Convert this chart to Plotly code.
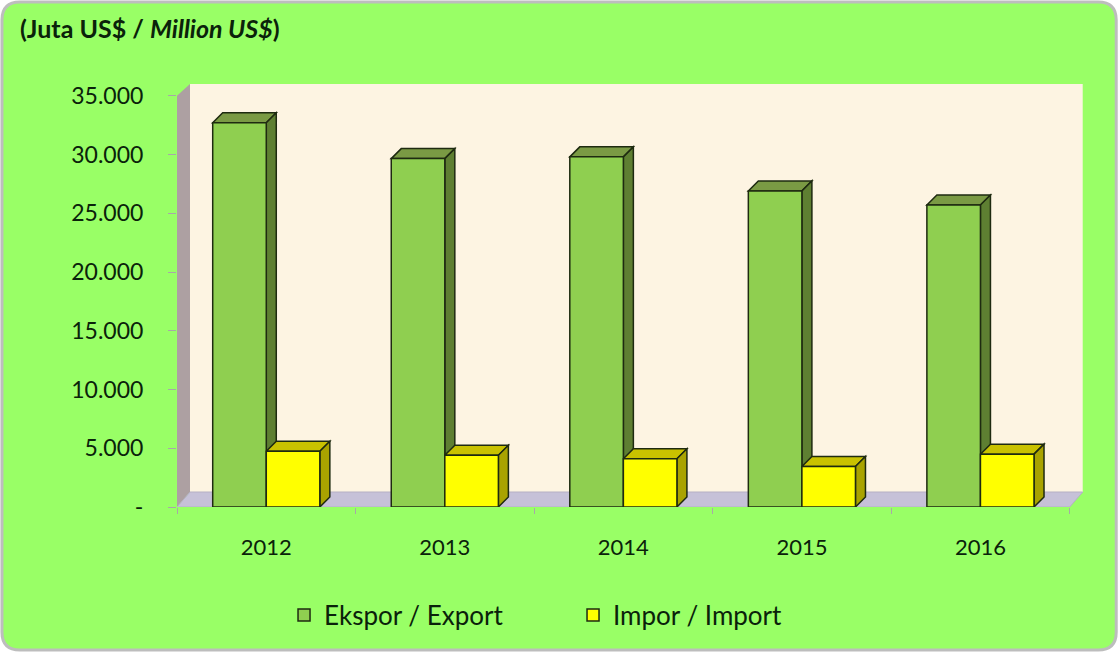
import plotly.graph_objects as go

# Export / import values (million US$)
years = ["2012", "2013", "2014", "2015", "2016"]
export_vals = [32700, 29650, 29800, 26900, 25700]
import_vals = [4750, 4400, 4100, 3450, 4500]

y_tickvals = [0, 5000, 10000, 15000, 20000, 25000, 30000, 35000]
y_ticktext = ["-", "5.000", "10.000", "15.000", "20.000", "25.000", "30.000", "35.000"]

# Geometry of the figure (pixels)
W, H = 1118, 652
ML, MT, MB = 177, 84, 145
UNIT_PX = 178.5          # pixels per category
X_RANGE = [-0.5, 4.58]
Y_RANGE = [0, 36000]
plot_w = (X_RANGE[1] - X_RANGE[0]) * UNIT_PX
MR = W - ML - plot_w
plot_h = H - MT - MB
px_per_y = plot_h / (Y_RANGE[1] - Y_RANGE[0])

BAR_W = 0.3
# 3-D depth offsets in data units
bar_dx = 10 / UNIT_PX
bar_dy = 10 / px_per_y
wall_dx = 13 / UNIT_PX
wall_dy = 15 / px_per_y

xs = list(range(len(years)))

EXP_FRONT, EXP_TOP, EXP_SIDE = "#8FCF50", "#7A9A44", "#5E7F32"
IMP_FRONT, IMP_TOP, IMP_SIDE = "#FFFF00", "#C9C200", "#A9A300"
EDGE = "#1E2A10"
TEXT = "#0A220A"


def px_to_paper_x(px):
    return (px - ML) / plot_w


def px_to_paper_y(py):
    return (H - MB - py) / plot_h


def poly(points):
    return "M " + " L ".join(f"{x},{y}" for x, y in points) + " Z"


shapes = []

# rounded frame of the whole chart
r = 18
x0p, x1p, y0p, y1p = 2, W - 2, 2, H - 2
fx = px_to_paper_x
fy = px_to_paper_y
frame_path = (
    f"M {fx(x0p + r)},{fy(y0p)} L {fx(x1p - r)},{fy(y0p)} "
    f"Q {fx(x1p)},{fy(y0p)} {fx(x1p)},{fy(y0p + r)} "
    f"L {fx(x1p)},{fy(y1p - r)} Q {fx(x1p)},{fy(y1p)} {fx(x1p - r)},{fy(y1p)} "
    f"L {fx(x0p + r)},{fy(y1p)} Q {fx(x0p)},{fy(y1p)} {fx(x0p)},{fy(y1p - r)} "
    f"L {fx(x0p)},{fy(y0p + r)} Q {fx(x0p)},{fy(y0p)} {fx(x0p + r)},{fy(y0p)} Z"
)
shapes.append(dict(type="path", xref="paper", yref="paper", path=frame_path,
                   fillcolor="#99FF66", line=dict(color="#BDBDBD", width=3),
                   layer="below"))

left = X_RANGE[0]
right = len(years) - 0.5
# back wall
shapes.append(dict(type="path", xref="x", yref="y", layer="below",
                   path=poly([(left + wall_dx, wall_dy), (right + wall_dx, wall_dy),
                              (right + wall_dx, Y_RANGE[1]), (left + wall_dx, Y_RANGE[1])]),
                   fillcolor="#FDF4E2", line=dict(width=0)))
# side wall
shapes.append(dict(type="path", xref="x", yref="y", layer="below",
                   path=poly([(left, 0), (left + wall_dx, wall_dy),
                              (left + wall_dx, Y_RANGE[1]), (left, 35000)]),
                   fillcolor="#ADA0A2", line=dict(width=0)))
# floor
shapes.append(dict(type="path", xref="x", yref="y", layer="below",
                   path=poly([(left, 0), (right, 0), (right + wall_dx, wall_dy),
                              (left + wall_dx, wall_dy)]),
                   fillcolor="#C6C1D8", line=dict(color="#B5B0C4", width=1)))


def box_faces(x0, x1, v, top_col, side_col):
    top = dict(type="path", xref="x", yref="y", layer="below",
               path=poly([(x0, v), (x1, v), (x1 + bar_dx, v + bar_dy), (x0 + bar_dx, v + bar_dy)]),
               fillcolor=top_col, line=dict(color=EDGE, width=1.5))
    side = dict(type="path", xref="x", yref="y", layer="below",
                path=poly([(x1, 0), (x1, v), (x1 + bar_dx, v + bar_dy), (x1 + bar_dx, bar_dy)]),
                fillcolor=side_col, line=dict(color=EDGE, width=1.5))
    return [top, side]


for x, ev, iv in zip(xs, export_vals, import_vals):
    shapes += box_faces(x - BAR_W, x, ev, EXP_TOP, EXP_SIDE)
    shapes += box_faces(x, x + BAR_W, iv, IMP_TOP, IMP_SIDE)

fig = go.Figure()
fig.add_trace(go.Bar(name="Ekspor / Export", x=xs, y=export_vals, width=BAR_W, offset=-BAR_W,
                     marker=dict(color=EXP_FRONT, line=dict(color=EDGE, width=1.5))))
fig.add_trace(go.Bar(name="Impor / Import", x=xs, y=import_vals, width=BAR_W, offset=0,
                     marker=dict(color=IMP_FRONT, line=dict(color=EDGE, width=1.5))))

font_family = "Lato, 'Open Sans', sans-serif"

fig.update_layout(
    width=W, height=H,
    margin=dict(l=ML, r=MR, t=MT, b=MB),
    paper_bgcolor="white",
    plot_bgcolor="rgba(0,0,0,0)",
    barmode="overlay",
    shapes=shapes,
    font=dict(family=font_family, color=TEXT),
    showlegend=True,
    legend=dict(orientation="h", x=px_to_paper_x(284), xanchor="left",
                y=px_to_paper_y(615), yanchor="middle",
                font=dict(size=26, color=TEXT), entrywidth=244, entrywidthmode="pixels",
                bgcolor="rgba(0,0,0,0)"),
    xaxis=dict(range=X_RANGE, tickmode="array", tickvals=xs, ticktext=years,
               ticks="", showgrid=False, zeroline=False, showline=False,
               tickfont=dict(size=22, color=TEXT), ticklabelstandoff=25,
               minor=dict(tickmode="array", tickvals=[i - 0.5 for i in range(len(years) + 1)],
                          ticks="outside", ticklen=6, tickcolor="#A8A8A8", tickwidth=1,
                          showgrid=False)),
    yaxis=dict(range=Y_RANGE, tickmode="array", tickvals=y_tickvals, ticktext=y_ticktext,
               ticks="outside", ticklen=8, tickcolor="#A8A8A8", tickwidth=1,
               showgrid=False, zeroline=False, showline=False,
               tickfont=dict(size=23, color=TEXT), ticklabelstandoff=20),
    annotations=[dict(text="<b>(Juta US$ / <i>Million US$</i>)</b>", xref="paper", yref="paper",
                      x=px_to_paper_x(18), y=px_to_paper_y(28), xanchor="left", yanchor="middle",
                      showarrow=False, font=dict(size=25, color=TEXT))],
)

fig.write_html("out.html")
